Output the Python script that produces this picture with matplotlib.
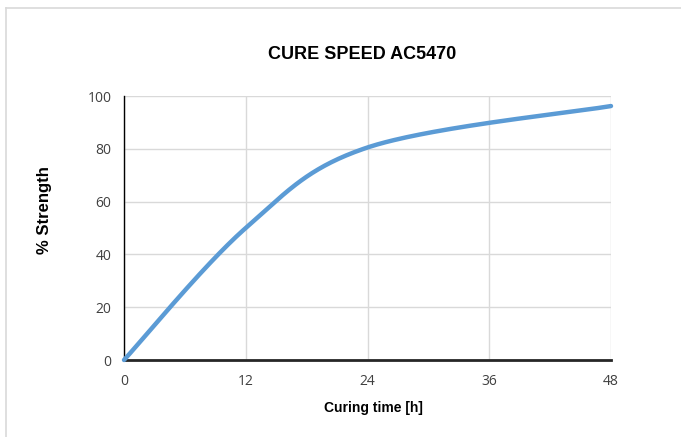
import numpy as np
import matplotlib
matplotlib.use("Agg")
import matplotlib.pyplot as plt
from matplotlib.lines import Line2D

# data
time_h = [0, 12, 24, 48]
strength = [0, 50, 80.5, 96.2]
x_ticks = [0, 12, 24, 36, 48]
y_ticks = [0, 20, 40, 60, 80, 100]


def excel_smooth(xs, ys, n=80):
    """bezier smoothing like the spreadsheet 'smoothed line' option"""
    P = np.column_stack([xs, ys]).astype(float)
    out = []
    for i in range(len(P) - 1):
        p0 = P[i - 1] if i > 0 else P[i]
        p1, p2 = P[i], P[i + 1]
        p3 = P[i + 2] if i + 2 < len(P) else P[i + 1]
        c1 = p1 + (p2 - p0) / 6
        c2 = p2 - (p3 - p1) / 6
        t = np.linspace(0, 1, n)[:, None]
        seg = (1 - t)**3 * p1 + 3 * (1 - t)**2 * t * c1 + 3 * (1 - t) * t**2 * c2 + t**3 * p2
        out.append(seg if i == 0 else seg[1:])
    out = np.vstack(out)
    return out[:, 0], out[:, 1]


W, H = 681, 437
fig = plt.figure(figsize=(W / 100, H / 100), dpi=100)
ax = fig.add_axes([124 / W, 1 - 360 / H, (611 - 124) / W, (360 - 96) / H])

sx, sy = excel_smooth(time_h, strength)
ax.plot(sx, sy, color="#5B9BD5", lw=3.2, solid_capstyle="round", zorder=3, clip_on=False)

ax.set_xlim(0, 48)
ax.set_ylim(0, 100)
ax.set_xticks(x_ticks)
ax.set_yticks(y_ticks)
ax.grid(True, color="#D9D9D9", lw=1)
ax.set_axisbelow(True)
for s in ["top", "right"]:
    ax.spines[s].set_visible(False)
ax.spines["left"].set_color("black")
ax.spines["left"].set_linewidth(1)
ax.spines["bottom"].set_color("#262626")
ax.spines["bottom"].set_linewidth(2)
ax.tick_params(axis="x", length=0, pad=10, labelsize=10, labelcolor="#404040")
ax.tick_params(axis="y", length=0, pad=9, labelsize=10, labelcolor="#404040")
for lab in ax.get_xticklabels() + ax.get_yticklabels():
    lab.set_family("Open Sans")

fig.text(362 / W, 1 - 54.5 / H, "CURE SPEED AC5470", ha="center", va="center",
         fontsize=13, fontweight="bold", family="Liberation Sans")
fig.text(373 / W, 1 - 408 / H, "Curing time [h]", ha="center", va="center",
         fontsize=10, fontweight="bold", family="Liberation Sans")
fig.text(45 / W, 1 - 210.5 / H, "% Strength", ha="center", va="center", rotation=90,
         fontsize=12, fontweight="bold", family="Liberation Sans")

# chart frame (only top and left edges fall inside the picture)
fig.add_artist(Line2D([6 / W, 1], [1 - 7.5 / H, 1 - 7.5 / H], color="#D9D9D9", lw=1.2))
fig.add_artist(Line2D([6 / W, 6 / W], [0, 1 - 7.5 / H], color="#D9D9D9", lw=1.2))

fig.savefig("out.png", dpi=100)
